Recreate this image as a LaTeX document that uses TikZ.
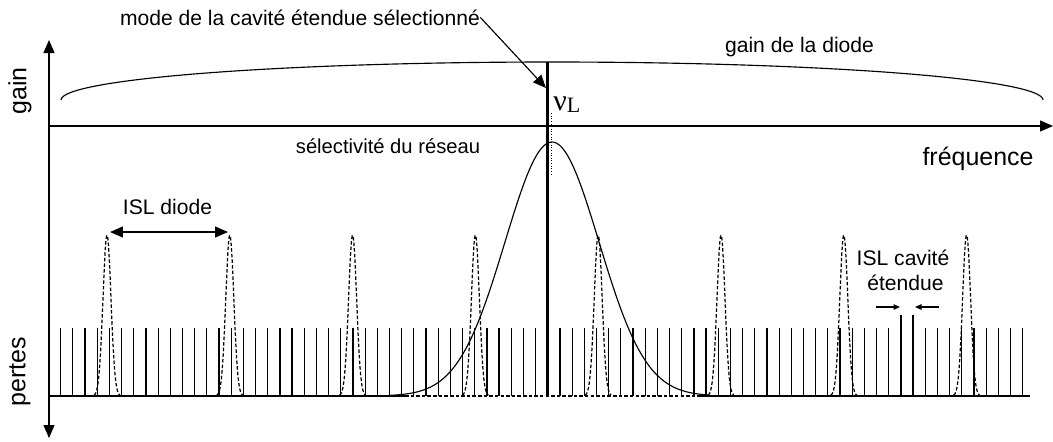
\documentclass[tikz,border=0pt]{standalone}
\usepackage{fontspec}
\setmainfont{Liberation Sans}
\newfontfamily\timesfont{Liberation Serif}
\usepackage{tikz}
\usetikzlibrary{arrows.meta}

\begin{document}
\begin{tikzpicture}[x=0.02cm,y=-0.02cm,>={Triangle[length=0.26cm,width=0.22cm]},
    axe/.style={line width=0.65pt},
    comb/.style={line width=0.7pt},
    pointille/.style={line width=0.7pt,dash pattern=on 2pt off 1.2pt},
    txt/.style={inner sep=0pt,font=\fontsize{12}{14}\selectfont},
    axtxt/.style={inner sep=0pt,font=\fontsize{14.2}{16}\selectfont}]
    % paramètres
    \def\xa{60.7} \def\dx{12.177} % peigne de la cavité étendue
    \def\yb{396}  \def\hc{68}
    \def\xd{107}  \def\dd{122.8}  % modes de la diode
    \def\hd{161}  \def\sd{4}
    \def\xr{552}  \def\hr{254} \def\sr{47} % réseau

    \useasboundingbox (0,0) rectangle (1053,441);

    % axes
    \draw[axe,<->] (49,40) -- (49,438);
    \draw[axe,->] (49,126) -- (1053,126);
    \draw[axe] (49,\yb) -- (405,\yb);
    \draw[pointille] (405,\yb) -- (700,\yb);
    \draw[axe] (700,\yb) -- (1030,\yb);

    % gain de la diode
    \draw[axe] plot[domain=180:0,samples=100,smooth] ({\xr+491*cos(\x)},{100-38*sin(\x)});

    % peigne de modes
    \foreach \k in {0,...,79}{
        \ifnum\k=40 \else
        \ifnum\k=69 \draw[comb] ({\xa+\dx*\k},\yb) -- ++(0,-81);
        \else\ifnum\k=70 \draw[comb] ({\xa+\dx*\k},\yb) -- ++(0,-81);
        \else \draw[comb] ({\xa+\dx*\k},\yb) -- ++(0,-\hc);
        \fi\fi\fi}

    % mode sélectionné
    \coordinate (modetop) at ({\xa+\dx*40},62);
    \draw[line width=1.8pt] ({\xa+\dx*40},\yb) -- (modetop);
    \draw[line width=0.5pt,densely dotted] (551,113) -- (551,175);

    % modes de la diode
    \foreach \k in {0,...,7}
        \draw[pointille] plot[domain=-13:13,samples=40,smooth]
            ({\xd+\dd*\k+\x},{\yb-\hd*exp(-(\x*\x)/(2*\sd*\sd))});

    % sélectivité du réseau
    \draw[axe] plot[domain=390:710,samples=120,smooth]
        (\x,{\yb-\hr*exp(-0.5*((\x-\xr)/\sr)^2)});

    % textes
    \node[txt,anchor=base] (mode) at (300,25) {mode de la cavité étendue sélectionné};
    \coordinate (modept) at (546,88);
    \draw[axe,->] (mode.east) -- (modept);
    \node[txt,anchor=base] (gaind) at (799.5,52) {gain de la diode};
    \node[axtxt,anchor=base] (freq) at (978,165) {fréquence};
    \node[txt,font=\fontsize{11.5}{13}\selectfont,anchor=base] (reseau) at (388,153) {sélectivité du réseau};
    \node[axtxt,rotate=90] (gain) at (20,91) {gain};
    \node[axtxt,rotate=90] (pertes) at (20,372) {pertes};
    \node[inner sep=0pt,anchor=base west] (nuL) at (553,110)
        {\timesfont\fontsize{17}{18}\selectfont ν\raisebox{-1.7pt}{\fontsize{12.5}{14}\selectfont L}};

    % ISL
    \node[txt,anchor=base] (isld) at (167.5,214) {ISL diode};
    \coordinate (dA) at (110,232);
    \coordinate (dB) at (228,232);
    \draw[axe,<->] (dA) -- (dB);
    \node[txt,anchor=base] (islc) at (903,265) {ISL cavité};
    \node[txt,anchor=base] (etend) at (905.5,290) {étendue};
    \coordinate (cA) at (876,307);
    \coordinate (cB) at (900,307);
    \coordinate (cC) at (939,307);
    \coordinate (cD) at (915,307);
    \draw[comb,-{Triangle[length=0.13cm,width=0.11cm]}] (cA) -- (cB);
    \draw[comb,-{Triangle[length=0.13cm,width=0.11cm]}] (cC) -- (cD);
\end{tikzpicture}
\end{document}
